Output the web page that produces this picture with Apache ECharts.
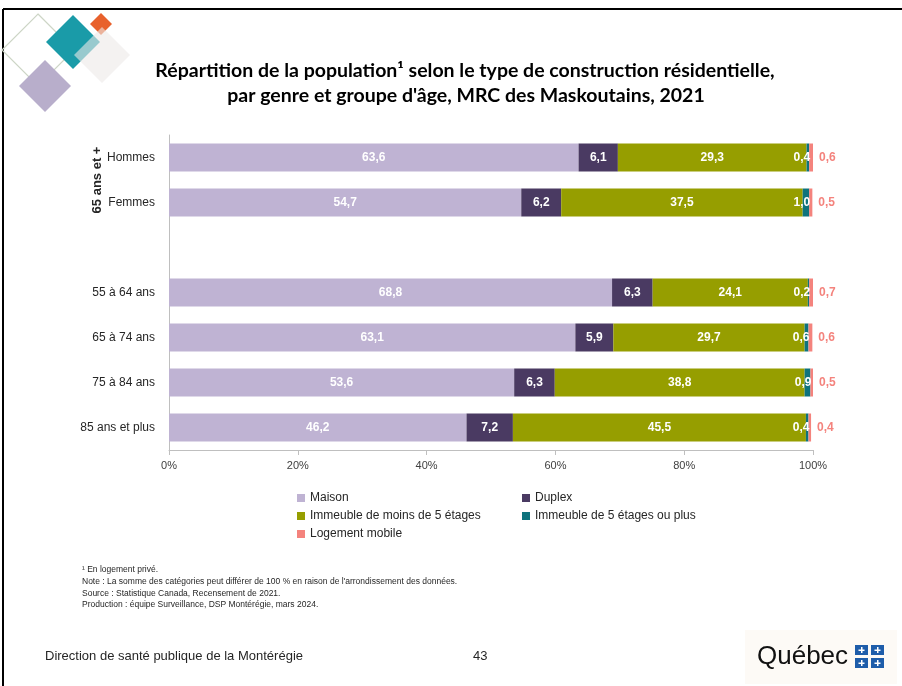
<!DOCTYPE html>
<html>
<head>
<meta charset="utf-8">
<script src="https://cdn.jsdelivr.net/npm/echarts@6/dist/echarts.min.js"></script>
<style>
html,body{margin:0;padding:0;background:#fff;}
#c{width:902px;height:686px;}
</style>
</head>
<body>
<div id="c"></div>
<script>
const categories = ['Hommes', 'Femmes', '', '55 à 64 ans', '65 à 74 ans', '75 à 84 ans', '85 ans et plus'];
const seriesNames = ['Maison', 'Duplex', 'Immeuble de moins de 5 étages', 'Immeuble de 5 étages ou plus', 'Logement mobile'];
const maison = [63.6, 54.7, '-', 68.8, 63.1, 53.6, 46.2];
const duplex = [6.1, 6.2, '-', 6.3, 5.9, 6.3, 7.2];
const immeubleMoins5 = [29.3, 37.5, '-', 24.1, 29.7, 38.8, 45.5];
const immeuble5Plus = [0.4, 1.0, '-', 0.2, 0.6, 0.9, 0.4];
const logementMobile = [0.6, 0.5, '-', 0.7, 0.6, 0.5, 0.4];
const xTicks = [0, 20, 40, 60, 80, 100];
const groupLabel = '65 ans et +';
const titleLines = ['Répartition de la population¹ selon le type de construction résidentielle,', "par genre et groupe d'âge, MRC des Maskoutains, 2021"];
const footnotes = ['¹ En logement privé.',
  "Note : La somme des catégories peut différer de 100 % en raison de l'arrondissement des données.",
  'Source : Statistique Canada, Recensement de 2021.',
  'Production : équipe Surveillance, DSP Montérégie, mars 2024.'];
const footerLeft = 'Direction de santé publique de la Montérégie';
const pageNumber = '43';

const colors = ['#BFB3D3', '#4A3A62', '#969E00', '#0E737D', '#F4837D'];
const fmt = p => (typeof p.value === 'number' ? p.value.toFixed(1).replace('.', ',') : '');
const FONT = 'Liberation Sans';

function bar(name, data, color, label) {
  return {
    name, type: 'bar', stack: 'total', data, barWidth: 28,
    itemStyle: { color },
    label: Object.assign({ show: true, formatter: fmt, fontFamily: FONT, fontSize: 12, fontWeight: 'bold', color: '#fff' }, label || {}),
    emphasis: { disabled: true }
  };
}

const diamond = (cx, cy, r) => [[cx, cy - r], [cx + r, cy], [cx, cy + r], [cx - r, cy]];

const graphics = [
  // frame
  { type: 'line', shape: { x1: 3, y1: 9, x2: 902, y2: 9 }, style: { stroke: '#000', lineWidth: 2 } },
  { type: 'line', shape: { x1: 3, y1: 9, x2: 3, y2: 686 }, style: { stroke: '#000', lineWidth: 2 } },
  // decorative diamonds
  { type: 'polygon', shape: { points: diamond(38, 50, 36) }, style: { fill: 'none', stroke: '#CDD5C6', lineWidth: 1.2 } },
  { type: 'polygon', shape: { points: diamond(45, 86, 26) }, style: { fill: '#B8AECB' } },
  { type: 'polygon', shape: { points: diamond(73, 42, 27) }, style: { fill: '#1A9BA8' } },
  { type: 'polygon', shape: { points: diamond(101, 24, 11) }, style: { fill: '#E8612C' } },
  { type: 'polygon', shape: { points: diamond(102, 55, 28) }, style: { fill: '#EDEAE8', opacity: 0.6 } },
  // title
  { type: 'text', x: 465, y: 71, style: { text: titleLines[0], textAlign: 'center', textVerticalAlign: 'middle', font: 'bold 19.5px Lato', fill: '#000' } },
  { type: 'text', x: 466, y: 96, style: { text: titleLines[1], textAlign: 'center', textVerticalAlign: 'middle', font: 'bold 19.5px Lato', fill: '#000' } },
  // group label
  { type: 'text', x: 97, y: 180, rotation: Math.PI / 2, style: { text: groupLabel, textAlign: 'center', textVerticalAlign: 'middle', font: 'bold 13px ' + FONT, fill: '#262626' } },
  // footnotes
  ...footnotes.map((t, i) => ({ type: 'text', x: 82, y: 570 + i * 11.7, style: { text: t, textVerticalAlign: 'middle', font: '8.5px ' + FONT, fill: '#262626' } })),
  // footer
  { type: 'text', x: 45, y: 656, style: { text: footerLeft, textVerticalAlign: 'middle', font: '13px ' + FONT, fill: '#262626' } },
  { type: 'text', x: 473, y: 656, style: { text: pageNumber, textVerticalAlign: 'middle', font: '13px ' + FONT, fill: '#262626' } },
  // Québec logo
  { type: 'rect', shape: { x: 745, y: 630, width: 152, height: 54 }, style: { fill: '#FDFAF6' } },
  { type: 'text', x: 757, y: 657, style: { text: 'Québec', textVerticalAlign: 'middle', font: '26px ' + FONT, fill: '#111' } },
  ...[[855, 645], [871, 645], [855, 658], [871, 658]].flatMap(([x, y]) => [
    { type: 'rect', shape: { x, y, width: 13, height: 10 }, style: { fill: '#1E5DAA' } },
    { type: 'rect', shape: { x: x + 6, y: y + 2, width: 1.5, height: 6 }, style: { fill: '#fff' } },
    { type: 'rect', shape: { x: x + 3.5, y: y + 4.5, width: 6, height: 1.5 }, style: { fill: '#fff' } }
  ])
];

const chart = echarts.init(document.getElementById('c'), null, { renderer: 'canvas' });
chart.setOption({
  animation: false,
  backgroundColor: '#fff',
  grid: { left: 169, right: 89, top: 135, height: 315, containLabel: false },
  xAxis: {
    type: 'value', min: 0, max: 100, interval: 20,
    axisLine: { show: true, lineStyle: { color: '#BFBFBF' } },
    axisTick: { show: true, length: 5, lineStyle: { color: '#BFBFBF' } },
    splitLine: { show: false },
    axisLabel: { formatter: v => xTicks.includes(v) ? v + '%' : '', fontFamily: FONT, fontSize: 11, color: '#404040', margin: 10 }
  },
  yAxis: {
    type: 'category', inverse: true, data: categories,
    axisLine: { show: true, lineStyle: { color: '#BFBFBF' } },
    axisTick: { show: false },
    axisLabel: { fontFamily: FONT, fontSize: 12, color: '#262626', margin: 14 }
  },
  legend: [
    { left: 292, top: 487, orient: 'vertical', itemGap: 6, itemWidth: 8, itemHeight: 8, icon: 'rect',
      data: [seriesNames[0], seriesNames[2], seriesNames[4]],
      textStyle: { fontFamily: FONT, fontSize: 12, color: '#262626' }, selectedMode: false },
    { left: 517, top: 487, orient: 'vertical', itemGap: 6, itemWidth: 8, itemHeight: 8, icon: 'rect',
      data: [seriesNames[1], seriesNames[3]],
      textStyle: { fontFamily: FONT, fontSize: 12, color: '#262626' }, selectedMode: false }
  ],
  series: [
    bar(seriesNames[0], maison, colors[0], { position: 'inside' }),
    bar(seriesNames[1], duplex, colors[1], { position: 'inside' }),
    bar(seriesNames[2], immeubleMoins5, colors[2], { position: 'inside' }),
    bar(seriesNames[3], immeuble5Plus, colors[3], { position: 'insideRight', distance: 0, offset: [1, 0] }),
    bar(seriesNames[4], logementMobile, colors[4], { position: 'right', distance: 6, color: '#F4837D', fontWeight: 'bold' })
  ],
  graphic: graphics
});
</script>
</body>
</html>
